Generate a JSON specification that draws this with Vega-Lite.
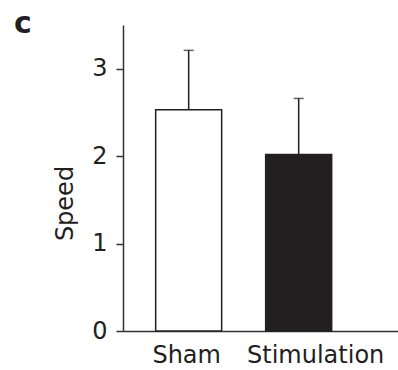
{
  "$schema": "https://vega.github.io/schema/vega-lite/v6.json",
  "autosize": {"type": "none"},
  "padding": {"left": 123, "top": 25, "right": 0, "bottom": 39},
  "width": 275,
  "height": 306,
  "background": "white",
  "title": {
    "text": "c",
    "anchor": "start",
    "frame": "group",
    "orient": "top",
    "dx": -109,
    "dy": 30,
    "offset": -8,
    "baseline": "alphabetic",
    "font": "DejaVu Sans",
    "fontSize": 30,
    "fontWeight": "bold",
    "color": "#231f20"
  },
  "data": {
    "values": [
      {"group": "Sham", "speed": 2.53, "upper": 3.21},
      {"group": "Stimulation", "speed": 2.02, "upper": 2.66}
    ]
  },
  "encoding": {
    "x": {
      "field": "group",
      "type": "nominal",
      "sort": ["Sham", "Stimulation"],
      "scale": {"paddingInner": 0.4, "paddingOuter": 0.45, "align": 0.33},
      "axis": {
        "title": null,
        "labelAngle": 0,
        "ticks": false,
        "tickSize": 0,
        "labelPadding": 12,
        "labelFont": "DejaVu Sans",
        "labelFontSize": 24,
        "labelColor": "#231f20",
        "domainColor": "#333333",
        "domainWidth": 1.5,
        "labelOffset": {"condition": {"test": "datum.value === 'Stimulation'", "value": 17}, "value": -2}
      }
    }
  },
  "layer": [
    {
      "mark": {"type": "bar", "stroke": "#231f20", "strokeWidth": 1.5},
      "encoding": {
        "y": {
          "field": "speed",
          "type": "quantitative",
          "scale": {"domain": [0, 3.5], "nice": false},
          "axis": {
            "title": "Speed",
            "values": [0, 1, 2, 3],
            "format": "d",
            "grid": false,
            "tickSize": 7,
            "tickWidth": 1.5,
            "tickColor": "#333333",
            "domainColor": "#333333",
            "domainWidth": 1.5,
            "labelPadding": 9,
            "labelFont": "DejaVu Sans",
            "labelFontSize": 24,
            "labelColor": "#231f20",
            "titleFont": "DejaVu Sans",
            "titleFontSize": 24,
            "titleFontWeight": "normal",
            "titleColor": "#231f20",
            "titleX": -51,
            "titleY": 178,
            "titleAlign": "center",
            "titleBaseline": "alphabetic",
            "titleAngle": -90
          }
        },
        "fill": {
          "field": "group",
          "type": "nominal",
          "scale": {"domain": ["Sham", "Stimulation"], "range": ["#ffffff", "#231f20"]},
          "legend": null
        }
      }
    },
    {
      "mark": {"type": "rule", "color": "#231f20", "strokeWidth": 1.5},
      "encoding": {
        "y": {"field": "speed", "type": "quantitative"},
        "y2": {"field": "upper"}
      }
    },
    {
      "mark": {"type": "tick", "color": "#231f20", "size": 10, "thickness": 1.5},
      "encoding": {
        "y": {"field": "upper", "type": "quantitative"}
      }
    }
  ],
  "config": {
    "view": {"stroke": null}
  }
}
